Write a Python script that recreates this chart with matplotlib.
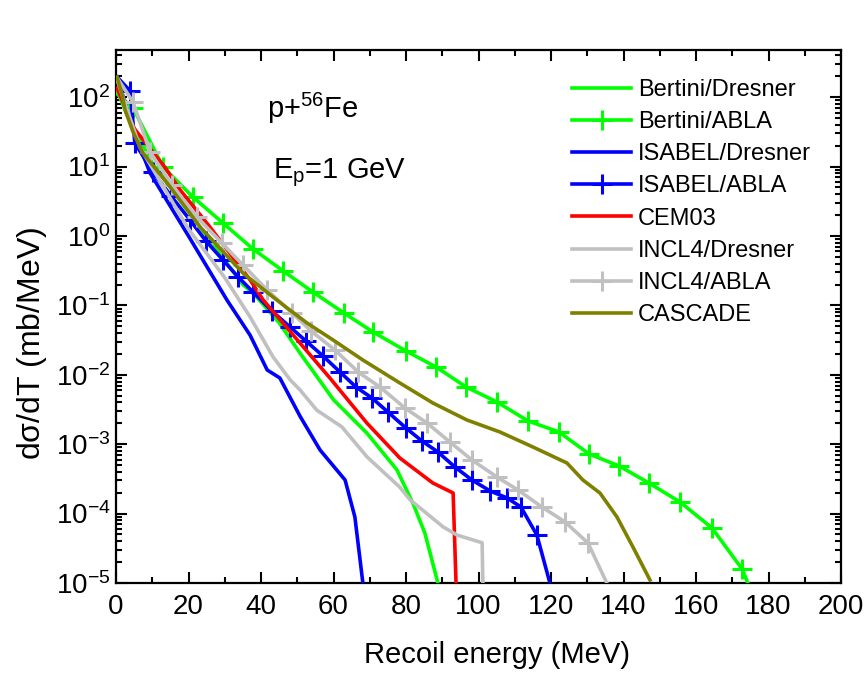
import matplotlib
matplotlib.use("Agg")
import matplotlib.pyplot as plt
import numpy as np

plt.rcParams["font.family"] = ["Liberation Sans", "DejaVu Sans"]
plt.rcParams["mathtext.fontset"] = "custom"
plt.rcParams["mathtext.rm"] = "Liberation Sans"
plt.rcParams["mathtext.it"] = "Liberation Sans"
plt.rcParams["mathtext.default"] = "regular"

# ── Data (recoil energy T in MeV, log10 of dσ/dT in mb/MeV) ─────────────────
bert_dres_T = [0.3, 3, 5, 10, 15, 20, 25, 30, 35, 38.3, 45, 50.8, 60, 69.2, 77.5, 81.9, 85.2, 88.6, 89.2]
bert_dres_L = [2.1, 1.75, 1.55, 1.05, 0.7, 0.35, 0.0, -0.35, -0.7, -0.85, -1.25, -1.69, -2.36, -2.84, -3.37, -3.85, -4.28, -4.96, -5.1]

bert_abla_T = [0.3, 4.7, 13.0, 21.2, 29.5, 37.8, 46.1, 54.3, 62.9, 70.9, 80.0, 88.3, 96.6, 105.1,
               113.7, 122.2, 130.5, 138.8, 147.0, 155.6, 164.4, 172.7, 174.3]
bert_abla_L = [2.05, 1.845, 0.994, 0.562, 0.187, -0.187, -0.504, -0.807, -1.110, -1.383, -1.657, -1.888,
               -2.176, -2.392, -2.666, -2.824, -3.141, -3.314, -3.559, -3.833, -4.207, -4.798, -5.0]

isa_dres_T = [0.3, 5, 9.4, 20, 30.6, 37.0, 41.7, 45.2, 50.8, 56.3, 63.2, 65.9, 68.1]
isa_dres_L = [2.29, 1.5, 0.908, 0.0, -0.922, -1.43, -1.93, -2.046, -2.6, -3.084, -3.516, -4.049, -5.0]

isa_abla_T = [0.3, 3.9, 5.2, 10.2, 15.2, 20.4, 24.8, 29.5, 33.7, 37.8, 43.0, 48.0, 52.4, 57.1, 61.8,
              66.2, 70.6, 75.0, 80.0, 84.4, 88.8, 93.5, 98.2, 103.2, 107.9, 111.7, 116.1, 119.7]
isa_abla_L = [2.29, 2.09, 1.34, 0.922, 0.576, 0.231, -0.072, -0.346, -0.591, -0.807, -1.081, -1.311,
              -1.513, -1.729, -1.960, -2.176, -2.334, -2.536, -2.767, -2.954, -3.112, -3.329, -3.516,
              -3.674, -3.775, -3.905, -4.308, -5.0]

cem_T = [0.3, 5, 13.5, 17.7, 25.9, 37.0, 40.6, 59.0, 69.2, 78.3, 87.4, 93.0, 93.8]
cem_L = [2.13, 1.55, 0.99, 0.663, 0.13, -0.634, -0.922, -2.046, -2.695, -3.199, -3.559, -3.703, -5.0]

incl_dres_T = [0.3, 6.6, 20, 30, 37.0, 43.3, 48.0, 50.8, 55.4, 62.3, 69.2, 78.3, 81.1, 90.2, 94.1, 101.0, 101.2]
incl_dres_L = [2.25, 1.28, 0.1, -0.6, -1.167, -1.74, -2.07, -2.22, -2.51, -2.75, -3.18, -3.62, -3.80, -4.19, -4.31, -4.42, -5.0]

incl_abla_T = [0.3, 4.7, 9.4, 15.4, 22.3, 29.2, 35.0, 41.7, 48.6, 53.8, 60.4, 66.8, 72.8, 79.7, 85.8,
               92.1, 98.2, 105.1, 110.9, 117.5, 123.9, 130.2, 135.4]
incl_abla_L = [2.28, 1.931, 1.21, 0.735, 0.274, -0.101, -0.418, -0.778, -1.110, -1.369, -1.643, -1.960,
               -2.176, -2.478, -2.695, -2.968, -3.228, -3.473, -3.66, -3.905, -4.121, -4.424, -5.0]

casc_T = [0.3, 1.7, 2.5, 4.7, 7.4, 14.1, 23.2, 35.0, 43.3, 47.2, 52.7, 59.9, 68.1, 78.3, 87.4, 96.8,
          105.9, 115.0, 124.4, 128.8, 133.5, 138.2, 142.6, 147.3]
casc_L = [2.29, 2.03, 1.816, 1.499, 1.196, 0.764, 0.130, -0.533, -0.879, -1.037, -1.254, -1.499, -1.787,
          -2.118, -2.406, -2.651, -2.824, -3.04, -3.271, -3.516, -3.703, -4.049, -4.481, -4.957]

GREEN, BLUE, RED, GRAY, OLIVE = "#00ff00", "#0000ff", "#ff0000", "#c0c0c0", "#808000"

series = [
    ("Bertini/Dresner", bert_dres_T, bert_dres_L, GREEN, False),
    ("Bertini/ABLA",    bert_abla_T, bert_abla_L, GREEN, True),
    ("ISABEL/Dresner",  isa_dres_T,  isa_dres_L,  BLUE,  False),
    ("ISABEL/ABLA",     isa_abla_T,  isa_abla_L,  BLUE,  True),
    ("CEM03",           cem_T,       cem_L,       RED,   False),
    ("INCL4/Dresner",   incl_dres_T, incl_dres_L, GRAY,  False),
    ("INCL4/ABLA",      incl_abla_T, incl_abla_L, GRAY,  True),
    ("CASCADE",         casc_T,      casc_L,      OLIVE, False),
]

fig = plt.figure(figsize=(8.67, 6.77), dpi=100)
ax = fig.add_axes([116 / 867, 1 - 583 / 677, 725 / 867, 533 / 677])

handles = []
for label, T, L, color, marked in series:
    y = 10.0 ** np.asarray(L)
    if marked:
        # first and last points are curve ends, no marker there
        ax.plot(T, y, color=color, lw=2.6, zorder=3)
        ax.plot(T[1:-1], y[1:-1], ls="none", marker="+", ms=14, mew=2.2, color=color, zorder=3)
        h, = ax.plot([], [], color=color, lw=2.6, marker="+", ms=14, mew=2.2)
    else:
        ax.plot(T, y, color=color, lw=2.6, zorder=4 if label == "CASCADE" else 3)
        h, = ax.plot([], [], color=color, lw=2.6)
    h.set_label(label)
    handles.append(h)

ax.set_yscale("log")
ax.set_xlim(0, 200)
ax.set_ylim(1e-5, 10 ** 2.68)
ax.set_xticks(np.arange(0, 201, 20))
ax.set_xticks(np.arange(10, 200, 20), minor=True)
ax.yaxis.set_major_locator(matplotlib.ticker.LogLocator(base=10, numticks=20))
ax.yaxis.set_minor_locator(matplotlib.ticker.LogLocator(base=10, subs=np.arange(2, 10), numticks=20))
ax.yaxis.set_minor_formatter(matplotlib.ticker.NullFormatter())

ax.tick_params(which="both", direction="in", top=True, right=True, width=1.5, labelsize=20)
ax.tick_params(which="major", length=8)
ax.tick_params(which="minor", length=4)
ax.tick_params(axis="x", which="major", pad=8)
ax.tick_params(axis="y", which="major", pad=4)
for sp in ax.spines.values():
    sp.set_linewidth(1.6)

ax.set_xlabel("Recoil energy (MeV)", fontsize=21)
ax.xaxis.set_label_coords(0.525, -0.108)
ax.set_ylabel(r"d$\sigma$/dT (mb/MeV)", fontsize=23)
ax.yaxis.set_label_coords(-0.092, 0.45)

ax.text(0.208, 0.89, r"p+$^{56}$Fe", transform=ax.transAxes, fontsize=21, va="center")
ax.text(0.216, 0.77, r"E$_{p}$=1 GeV", transform=ax.transAxes, fontsize=21, va="center")

leg = fig.legend(handles=handles, loc="upper left", bbox_to_anchor=(572 / 867, 1 - 79 / 677),
                 frameon=False, fontsize=17, handlelength=2.5, handletextpad=0.3,
                 labelspacing=0.43, borderpad=0, borderaxespad=0, numpoints=1)

fig.savefig("out.png", dpi=100)
